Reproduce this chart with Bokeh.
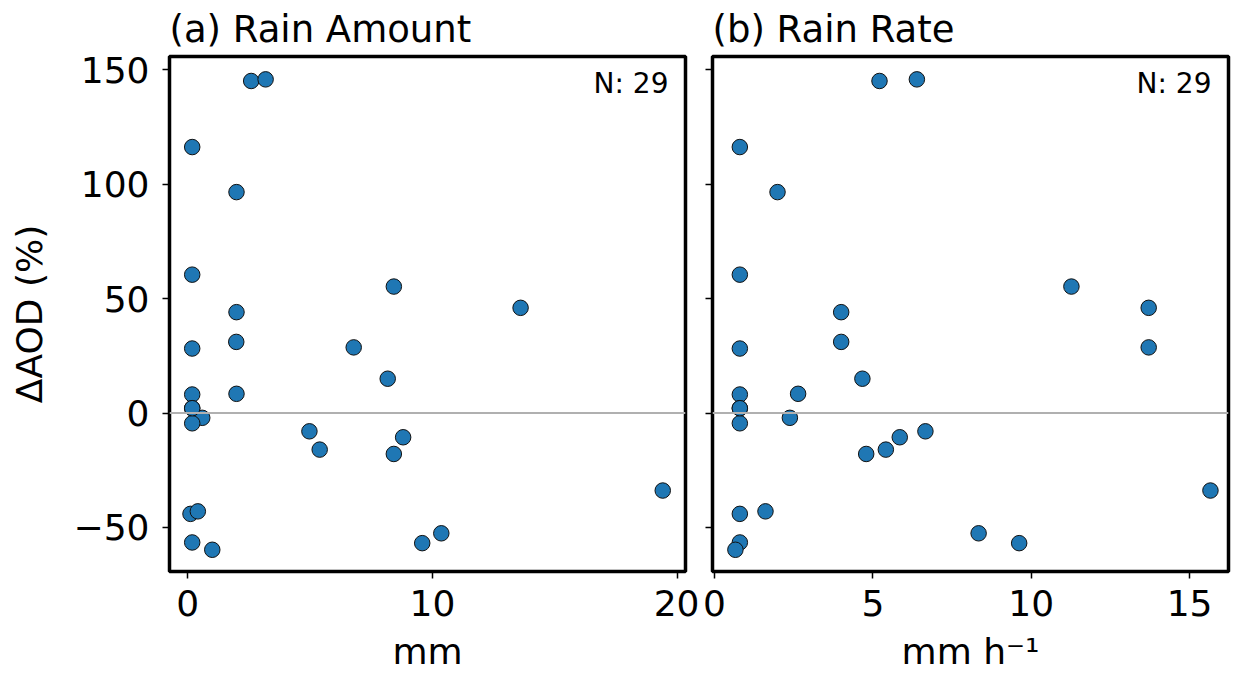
from bokeh.plotting import figure
from bokeh.models import Range1d, FixedTicker, Span, Label
from bokeh.layouts import row
from bokeh.embed import file_html
from bokeh.resources import INLINE

# ---- data ----
rain_amount = [2.59, 3.18, 0.18, 1.99, 0.18, 8.42, 13.6, 1.99, 1.98, 0.18,
               6.78, 8.17, 0.18, 1.99, 0.18, 0.59, 0.18, 4.97, 8.80, 5.39,
               8.42, 0.11, 0.41, 0.18, 1.00, 9.58, 10.36, 19.41, 0.18]
rain_rate = [5.21, 6.39, 0.80, 1.99, 0.80, 11.27, 13.71, 4.00, 4.00, 0.80,
             13.71, 4.67, 0.80, 2.64, 0.80, 2.38, 0.80, 6.66, 5.85, 5.41,
             4.79, 0.80, 1.61, 0.80, 0.66, 9.62, 8.34, 15.66, 0.80]
delta_aod = [145.2, 145.9, 116.3, 96.6, 60.5, 55.3, 46.0, 44.1, 31.1, 28.2,
             28.7, 15.0, 8.1, 8.4, 2.1, -2.1, -4.5, -8.0, -10.6, -16.0,
             -17.9, -44.1, -43.0, -56.6, -59.8, -56.9, -52.6, -33.9, 2.1]

y_ticks = [-50, 0, 50, 100, 150]
amount_ticks = [0, 10, 20]
rate_ticks = [0, 5, 10, 15]
titles = ["(a) Rain Amount", "(b) Rain Rate"]
xlabels = ["mm", "mm h\u207b\u00b9"]
n_text = "N: %d" % len(delta_aod)

FONT = "DejaVu Sans"
Y_RANGE = (-69.3, 155.9)


def minus(v):
    return ("\u2212%d" % -v) if v < 0 else "%d" % v


def make_panel(xvals, xr, xticks, title, xlabel, ylabel, bl, br, fw):
    p = figure(frame_width=fw, frame_height=515,
               x_range=Range1d(*xr), y_range=Range1d(*Y_RANGE),
               output_backend="svg", toolbar_location=None,
               min_border_left=bl, min_border_right=br,
               min_border_top=56, min_border_bottom=105,
               background_fill_color="white", border_fill_color="white")
    p.grid.visible = False
    p.outline_line_color = "black"
    p.outline_line_width = 3.5

    p.title.text = title
    p.title.text_font = FONT
    p.title.text_font_size = "37px"
    p.title.text_font_style = "normal"
    p.title.text_color = "black"
    p.title.align = "left"
    p.title.standoff = 11

    for ax in (p.xaxis[0], p.yaxis[0]):
        ax.axis_line_color = None
        ax.major_tick_in = 0
        ax.major_tick_out = 7
        ax.major_tick_line_width = 1.5
        ax.major_tick_line_color = "black"
        ax.minor_tick_line_color = None
        ax.major_label_text_font = FONT
        ax.major_label_text_font_size = "36px"
        ax.major_label_text_color = "black"
        ax.axis_label_text_font = FONT
        ax.axis_label_text_font_size = "36px"
        ax.axis_label_text_font_style = "normal"
        ax.axis_label_text_color = "black"

    p.xaxis.ticker = FixedTicker(ticks=xticks)
    p.xaxis.major_label_overrides = {t: minus(t) for t in xticks}
    p.xaxis.major_label_standoff = 11
    p.xaxis.axis_label = xlabel
    p.xaxis.axis_label_standoff = 12

    p.yaxis.ticker = FixedTicker(ticks=y_ticks)
    if ylabel:
        p.yaxis.major_label_overrides = {t: minus(t) for t in y_ticks}
        p.yaxis.major_label_standoff = 13
        p.yaxis.axis_label = ylabel
        p.yaxis.axis_label_standoff = 21
    else:
        p.yaxis.major_label_overrides = {t: "" for t in y_ticks}
        p.yaxis.major_label_standoff = 0

    p.add_layout(Span(location=0, dimension="width", line_color="#b0b0b0",
                      line_width=2))
    p.scatter(xvals, delta_aod, size=15.5, fill_color="#1f77b4",
              line_color="#111111", line_width=1)
    p.add_layout(Label(x=xr[1], y=Y_RANGE[1], x_offset=-17, y_offset=-10,
                       text=n_text, text_align="right", text_baseline="top",
                       text_font=FONT, text_font_size="28px",
                       text_color="black"))
    return p


p1 = make_panel(rain_amount, (-0.748, 20.34), amount_ticks, titles[0],
                xlabels[0], "\u0394AOD (%)", 169, 14, 516)
p2 = make_panel(rain_rate, (-0.063, 16.23), rate_ticks, titles[1],
                xlabels[1], None, 13, 3, 516)

layout = row(p1, p2, spacing=0)
open("out.html", "w").write(file_html(layout, INLINE))
